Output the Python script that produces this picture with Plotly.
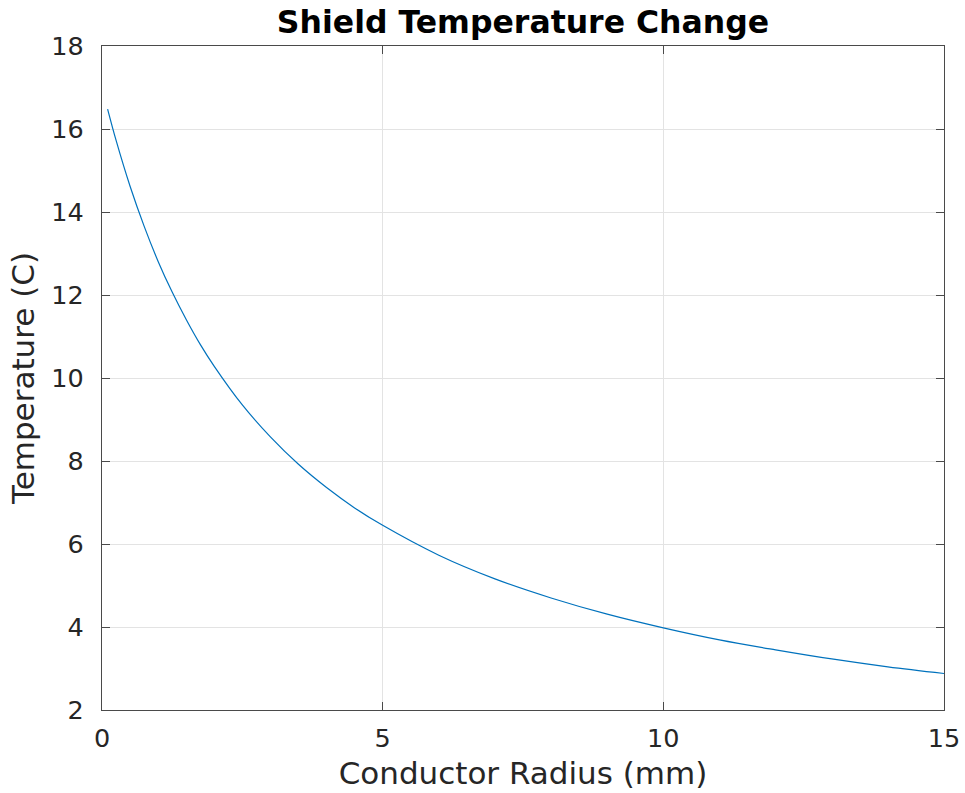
import plotly.graph_objects as go

radius_mm = [0.1, 0.25, 0.5, 0.75, 1.0, 1.25, 1.5, 1.75, 2.0, 2.5, 3.0, 3.5, 4.0, 4.5,
             5.0, 6.0, 7.0, 8.0, 9.0, 10.0, 11.0, 12.0, 13.0, 14.0, 15.0]
temperature_c = [16.48, 15.73, 14.62, 13.66, 12.81, 12.07, 11.41, 10.81, 10.28, 9.35,
                 8.58, 7.92, 7.36, 6.87, 6.45, 5.73, 5.16, 4.70, 4.31, 3.98, 3.69,
                 3.45, 3.23, 3.04, 2.88]

x_ticks = [0, 5, 10, 15]
y_ticks = [2, 4, 6, 8, 10, 12, 14, 16, 18]

fig = go.Figure()
fig.add_trace(go.Scatter(x=radius_mm, y=temperature_c, mode="lines",
                         line=dict(color="#0072BD", width=1.2, shape="spline"),
                         showlegend=False))

axis_common = dict(showline=True, linecolor="#4a4a4a", linewidth=1.3, mirror="ticks",
                   ticks="inside", ticklen=8, tickcolor="#4a4a4a", tickwidth=1.3,
                   showgrid=True, gridcolor="#e3e3e3", gridwidth=1, zeroline=False,
                   automargin=False,
                   tickfont=dict(family="DejaVu Sans", size=25.5, color="#262626"))

fig.update_layout(
    width=965, height=793,
    margin=dict(l=102, r=21, t=46, b=83),
    paper_bgcolor="white", plot_bgcolor="white",
    title=dict(text="<b>Shield Temperature Change</b>", x=(102 + 944) / 2 / 965, xanchor="center",
               y=1 - 22 / 793, yanchor="middle",
               font=dict(family="DejaVu Sans", size=31.5, color="black")),
    xaxis=dict(range=[0, 15], tickvals=x_ticks, ticklabelstandoff=5,
               title=dict(text="Conductor Radius (mm)", standoff=10,
                          font=dict(family="DejaVu Sans", size=31, color="#262626")),
               **axis_common),
    yaxis=dict(range=[2, 18], tickvals=y_ticks, ticklabelstandoff=12,
               title=dict(text="Temperature (C)", standoff=7,
                          font=dict(family="DejaVu Sans", size=31, color="#262626")),
               **axis_common),
)

fig.write_html("out.html")
